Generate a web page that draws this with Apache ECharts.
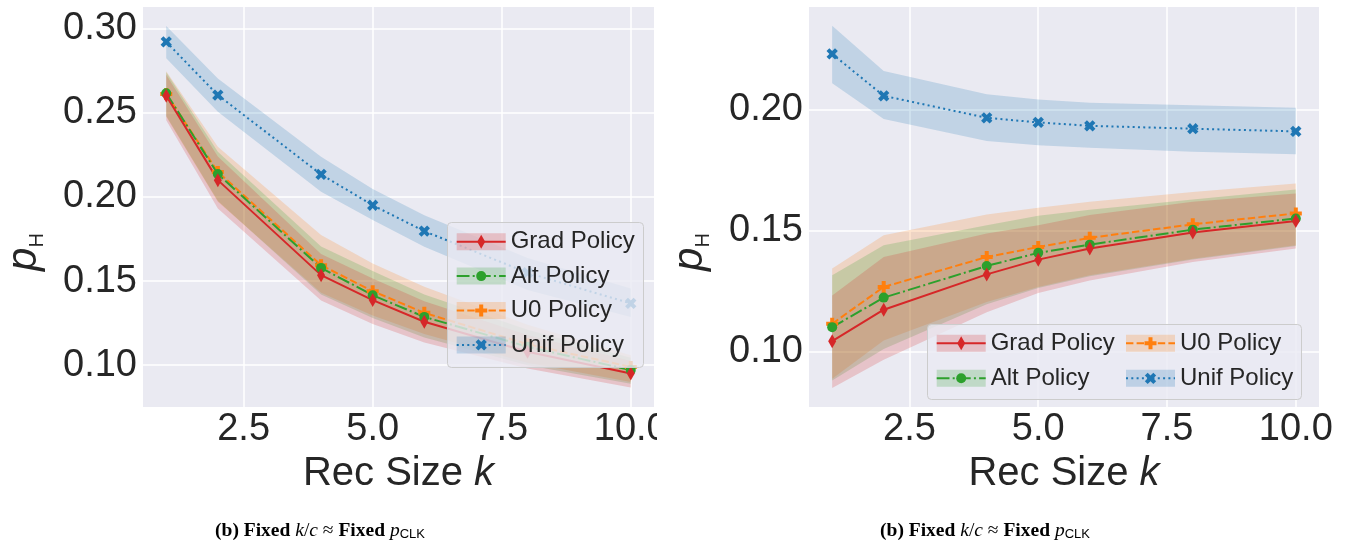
<!DOCTYPE html>
<html><head><meta charset="utf-8">
<script src="https://cdn.jsdelivr.net/npm/echarts@6/dist/echarts.min.js"></script>
<style>html,body{margin:0;padding:0;background:#fff}#c{width:1351px;height:548px}</style>
</head><body><div id="c"></div>
<script>
// ---------- data ----------
const kValues = [1, 2, 4, 5, 6, 8, 10];
const xTicks = [2.5, 5, 7.5, 10];
const yTicksLeft = [0.10, 0.15, 0.20, 0.25, 0.30];
const yTicksRight = [0.10, 0.15, 0.20];
const seriesNames = ['Grad Policy', 'Alt Policy', 'U0 Policy', 'Unif Policy'];

// left panel
const gradMeanL = [0.2600, 0.2099, 0.1535, 0.1387, 0.1258, 0.1080, 0.0951];
const gradLoL   = [0.2455, 0.1930, 0.1385, 0.1245, 0.1135, 0.0980, 0.0868];
const gradHiL   = [0.2725, 0.2240, 0.1660, 0.1515, 0.1380, 0.1180, 0.1025];
const altMeanL  = [0.2615, 0.2135, 0.1578, 0.1416, 0.1287, 0.1110, 0.0971];
const altLoL    = [0.2480, 0.1975, 0.1420, 0.1280, 0.1165, 0.1000, 0.0890];
const altHiL    = [0.2740, 0.2267, 0.1705, 0.1560, 0.1420, 0.1210, 0.1045];
const u0MeanL   = [0.2610, 0.2148, 0.1594, 0.1440, 0.1311, 0.1125, 0.0990];
const u0LoL     = [0.2475, 0.1970, 0.1430, 0.1295, 0.1185, 0.1015, 0.0900];
const u0HiL     = [0.2745, 0.2297, 0.1773, 0.1604, 0.1466, 0.1240, 0.1060];
const unifMeanL = [0.2920, 0.2604, 0.2133, 0.1950, 0.1796, 0.1549, 0.1367];
const unifLoL   = [0.2822, 0.2505, 0.2030, 0.1862, 0.1703, 0.1446, 0.1287];
const unifHiL   = [0.3014, 0.2703, 0.2238, 0.2046, 0.1891, 0.1636, 0.1456];

// right panel
const gradMeanR = [0.1042, 0.1172, 0.1318, 0.1379, 0.1425, 0.1491, 0.1539];
const gradLoR   = [0.0849, 0.0965, 0.1162, 0.1241, 0.1293, 0.1369, 0.1425];
const gradHiR   = [0.1231, 0.1390, 0.1487, 0.1521, 0.1563, 0.1618, 0.1652];
const altMeanR  = [0.1100, 0.1222, 0.1353, 0.1407, 0.1441, 0.1503, 0.1549];
const altLoR    = [0.0880, 0.1010, 0.1195, 0.1262, 0.1310, 0.1380, 0.1435];
const altHiR    = [0.1314, 0.1438, 0.1521, 0.1560, 0.1585, 0.1627, 0.1669];
const u0MeanR   = [0.1114, 0.1266, 0.1390, 0.1431, 0.1469, 0.1525, 0.1570];
const u0LoR     = [0.0887, 0.1045, 0.1204, 0.1266, 0.1314, 0.1383, 0.1438];
const u0HiR     = [0.1342, 0.1480, 0.1565, 0.1593, 0.1618, 0.1659, 0.1694];
const unifMeanR = [0.2229, 0.2056, 0.1965, 0.1946, 0.1932, 0.1920, 0.1909];
const unifLoR   = [0.2108, 0.1960, 0.1869, 0.1852, 0.1841, 0.1825, 0.1814];
const unifHiR   = [0.2345, 0.2159, 0.2062, 0.2041, 0.2027, 0.2017, 0.2007];

// ---------- styles ----------
const FONT = '"Liberation Sans", Arial, sans-serif';
const SERIF = '"Liberation Serif", "Times New Roman", serif';
const TXT = '#262626';
const PLUS = 'path://M1,0H2V1H3V2H2V3H1V2H0V1H1Z';
const sty = {
  'Grad Policy': {color: '#d62728', dash: 'solid', symbol: 'diamond', size: [8, 14], rotate: 0},
  'Alt Policy':  {color: '#2ca02c', dash: [12.8, 3.2, 2, 3.2], symbol: 'circle', size: 10, rotate: 0},
  'U0 Policy':   {color: '#ff7f0e', dash: [7.4, 3.2], symbol: PLUS, size: 12, rotate: 0},
  'Unif Policy': {color: '#1f77b4', dash: [2, 3.3], symbol: PLUS, size: 12, rotate: 45}
};
function rgba(hex, a) {
  const n = parseInt(hex.slice(1), 16);
  return 'rgba(' + (n >> 16) + ',' + ((n >> 8) & 255) + ',' + (n & 255) + ',' + a + ')';
}

const panels = [
  {Grad: [gradMeanL, gradLoL, gradHiL], Alt: [altMeanL, altLoL, altHiL], U0: [u0MeanL, u0LoL, u0HiL], Unif: [unifMeanL, unifLoL, unifHiL]},
  {Grad: [gradMeanR, gradLoR, gradHiR], Alt: [altMeanR, altLoR, altHiR], U0: [u0MeanR, u0LoR, u0HiR], Unif: [unifMeanR, unifLoR, unifHiR]}
];

function bandSeries(gi, lo, hi, color) {
  return {
    type: 'custom', xAxisIndex: gi, yAxisIndex: gi, silent: true,
    data: kValues.map((x, i) => [x, lo[i], hi[i]]),
    encode: {x: 0, y: [1, 2]},
    renderItem: (params, api) => {
      if (params.dataIndex !== 0) return null;
      const pts = [];
      for (let i = 0; i < kValues.length; i++) pts.push(api.coord([kValues[i], hi[i]]));
      for (let i = kValues.length - 1; i >= 0; i--) pts.push(api.coord([kValues[i], lo[i]]));
      return {type: 'polygon', shape: {points: pts}, style: {fill: rgba(color, 0.2), stroke: null}};
    }
  };
}
function lineSeries(gi, name, mean) {
  const s = sty[name];
  return {
    type: 'line', name: name, xAxisIndex: gi, yAxisIndex: gi, silent: true,
    data: kValues.map((x, i) => [x, mean[i]]),
    symbol: s.symbol, symbolSize: s.size, symbolRotate: s.rotate, showAllSymbol: true,
    lineStyle: {color: s.color, width: 2, type: s.dash},
    itemStyle: {color: s.color, borderWidth: 0}
  };
}

const series = [];
panels.forEach((p, gi) => {
  [['Unif', 'Unif Policy'], ['U0', 'U0 Policy'], ['Alt', 'Alt Policy'], ['Grad', 'Grad Policy']].forEach(([key, name]) => {
    series.push(bandSeries(gi, p[key][1], p[key][2], sty[name].color));
    series.push(lineSeries(gi, name, p[key][0]));
  });
});

const grids = [
  {left: 143, top: 7, width: 511, height: 400, show: true, backgroundColor: '#eaeaf2', borderWidth: 0},
  {left: 809, top: 7, width: 510, height: 400, show: true, backgroundColor: '#eaeaf2', borderWidth: 0}
];

function xAxis(gi) {
  return {
    type: 'value', gridIndex: gi, min: 0.55, max: 10.45,
    axisLine: {show: false}, axisTick: {show: false, customValues: xTicks},
    axisLabel: {customValues: xTicks, formatter: v => v.toFixed(1), fontSize: 38, color: TXT, fontFamily: FONT, margin: 4},
    splitLine: {show: true, lineStyle: {color: '#ffffff', width: 1.5}},
    name: '{n|Rec Size }{i|k}', nameLocation: 'middle', nameGap: 35,
    nameTextStyle: {rich: {
      n: {fontSize: 40, fontFamily: FONT, color: TXT},
      i: {fontSize: 40, fontFamily: FONT, color: TXT, fontStyle: 'italic'}
    }}
  };
}
function yAxis(gi, min, max, ticks) {
  return {
    type: 'value', gridIndex: gi, min: min, max: max,
    axisLine: {show: false}, axisTick: {show: false, customValues: ticks},
    axisLabel: {customValues: ticks, formatter: v => v.toFixed(2), fontSize: 38, color: TXT, fontFamily: FONT, margin: 6},
    splitLine: {show: true, lineStyle: {color: '#ffffff', width: 1.5}},
    name: '{p|p}{h|H}', nameLocation: 'middle', nameGap: 96, nameRotate: 90,
    nameTextStyle: {padding: [0, 90, 0, 0], rich: {
      p: {fontSize: 42, fontFamily: FONT, color: TXT, fontStyle: 'italic'},
      h: {fontSize: 20, fontFamily: FONT, color: TXT, padding: [26, 0, 0, 0]}
    }}
  };
}

// ---------- legend (graphic) ----------
function marker(name, cx, cy) {
  const s = sty[name];
  if (s.symbol === 'circle') return {type: 'circle', shape: {cx: cx, cy: cy, r: 5}, style: {fill: s.color}};
  if (s.symbol === 'diamond') return {type: 'polygon', shape: {points: [[cx, cy - 7], [cx + 4, cy], [cx, cy + 7], [cx - 4, cy]]}, style: {fill: s.color}};
  const a = 2, b = 6;
  const pts = [[-a, -b], [a, -b], [a, -a], [b, -a], [b, a], [a, a], [a, b], [-a, b], [-a, a], [-b, a], [-b, -a], [-a, -a]];
  return {type: 'polygon', x: cx, y: cy, rotation: s.rotate ? Math.PI / 4 : 0, shape: {points: pts}, style: {fill: s.color}};
}
function legendEntry(name, px, cy) {
  const s = sty[name];
  return [
    {type: 'rect', shape: {x: px, y: cy - 8.5, width: 49, height: 17}, style: {fill: rgba(s.color, 0.22)}},
    {type: 'line', shape: {x1: px, y1: cy, x2: px + 49, y2: cy}, style: {stroke: s.color, lineWidth: 2, lineDash: s.dash === 'solid' ? null : s.dash}},
    marker(name, px + 24.5, cy),
    {type: 'text', x: px + 54, y: cy, style: {text: name, font: '24px ' + FONT, fill: TXT, verticalAlign: 'middle', align: 'left'}}
  ];
}
function withZ(list, z) { return list.map(e => Object.assign({z: z}, e)); }
const legendL = [{type: 'rect', shape: {x: 447.5, y: 222.5, width: 196, height: 145, r: 4}, style: {fill: 'rgba(234,234,242,0.8)', stroke: '#cccccc', lineWidth: 1}}];
seriesNames.forEach((n, i) => legendL.push(...legendEntry(n, 456.7, 241.7 + i * 34.4)));
const legendR = [{type: 'rect', shape: {x: 927.5, y: 324.5, width: 374, height: 75, r: 4}, style: {fill: 'rgba(234,234,242,0.8)', stroke: '#cccccc', lineWidth: 1}}];
[[0, 936.7, 343.3], [1, 936.7, 378.3], [2, 1126, 343.3], [3, 1126, 378.3]].forEach(([i, px, cy]) => legendR.push(...legendEntry(seriesNames[i], px, cy)));

function caption(cx) {
  return {
    type: 'text', x: cx, y: 531, z: 100,
    style: {
      text: '{b|(b) Fixed }{i|k}{r|/}{i|c}{r| ≈ }{b|Fixed }{i|p}{s|CLK}',
      align: 'center', verticalAlign: 'middle',
      rich: {
        b: {font: 'bold 19.5px ' + SERIF, fill: '#000'},
        i: {font: 'italic 19.5px ' + SERIF, fill: '#000'},
        r: {font: '19.5px ' + SERIF, fill: '#000'},
        s: {font: '13px ' + FONT, fill: '#000', padding: [7, 0, 0, 0]}
      }
    }
  };
}

const chart = echarts.init(document.getElementById('c'), null, {renderer: 'canvas'});
chart.setOption({
  animation: false,
  backgroundColor: '#ffffff',
  grid: grids,
  xAxis: [xAxis(0), xAxis(1)],
  yAxis: [yAxis(0, 0.0752, 0.3127, yTicksLeft), yAxis(1, 0.0770, 0.2423, yTicksRight)],
  series: series,
  graphic: [
    ...withZ(legendL, 100),
    ...withZ(legendR, 100),
    {type: 'rect', z: 200, shape: {x: 657, y: 375, width: 60, height: 80}, style: {fill: '#ffffff'}},
    caption(320), caption(985)
  ]
});
</script>
</body></html>
